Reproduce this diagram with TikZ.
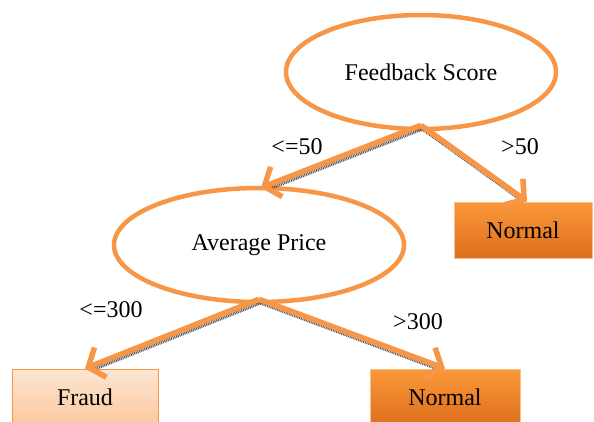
\documentclass[tikz,border=0pt]{standalone}
\usepackage{fontspec}
\setmainfont{Liberation Serif}
\usetikzlibrary{shapes.geometric,arrows.meta}
\definecolor{accent}{HTML}{F79646}
\definecolor{leaftop}{HTML}{FA983A}
\definecolor{leafbot}{HTML}{DE6E1C}
\definecolor{palefr}{HTML}{FDE6D3}
\definecolor{palebot}{HTML}{FBC89E}
\tikzset{
  test/.style={ellipse, draw=accent, line width=4.5pt, inner sep=0pt,
    minimum width=270pt, minimum height=114pt, font=\fontsize{24}{28}\selectfont},
  leaf/.style={rectangle, draw=accent!60, line width=1pt, inner sep=0pt,
    top color=leaftop, bottom color=leafbot,
    minimum width=138pt, minimum height=56pt, font=\fontsize{24}{28}\selectfont},
  fraudleaf/.style={leaf, draw=accent, top color=palefr, bottom color=palebot,
    minimum width=146pt},
  cond/.style={font=\fontsize{24}{28}\selectfont, inner sep=0pt},
  branch/.style={draw=accent, line width=5.5pt,
    -{Straight Barb[length=13pt,width=32pt]},
    preaction={draw=black!65, line width=3.5pt, dash pattern=on 1pt off 0.8pt,
      arrows=-, shorten >=6pt, transform canvas={shift={(1.5pt,-3.5pt)}}}},
}
\begin{document}
\begin{tikzpicture}[x=1pt,y=-1pt]
  \path[use as bounding box] (0,0) rectangle (594,421);

  % tests
  \node[test] (fb) at (421,72) {Feedback Score};
  \node[test, minimum width=290pt] (ap) at (259,245) {Average Price};

  % leaves
  \node[leaf] (n1) at (523,230) {Normal};
  \node[fraudleaf] (fr) at (85,397) {Fraud};
  \node[leaf, minimum width=150pt] (n2) at (445,397) {Normal};

  % branches
  \coordinate (fbout) at ([yshift=6pt]fb.south);
  \coordinate (apout) at ([yshift=5pt]ap.south);
  \draw[branch] (fbout) -- ([xshift=2pt,yshift=-2pt]ap.north);
  \draw[branch] (fbout) -- ([xshift=4pt]n1.north);
  \draw[branch] (apout) -- (fr.north);
  \draw[branch] (apout) -- (n2.north);

  % conditions
  \node[cond] (le50) at (297,147) {<=50};
  \node[cond] (gt50) at (520,147) {>50};
  \node[cond] (le300) at (111,310) {<=300};
  \node[cond] (gt300) at (418,322) {>300};
\end{tikzpicture}
\end{document}
